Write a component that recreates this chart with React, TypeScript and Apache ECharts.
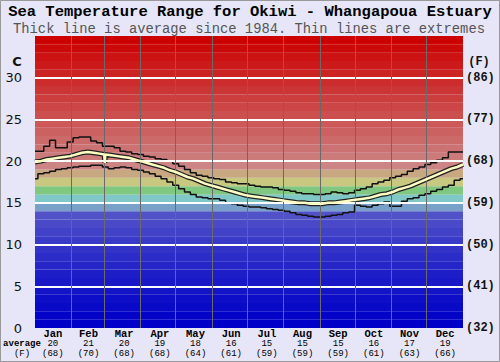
import React, { useEffect, useRef } from 'react';
import * as echarts from 'echarts';

const MONTHS = ['Jan', 'Feb', 'Mar', 'Apr', 'May', 'Jun', 'Jul', 'Aug', 'Sep', 'Oct', 'Nov', 'Dec'];
const MONTH_START_DAYS = [0, 31, 59, 90, 120, 151, 181, 212, 243, 273, 304, 334, 365];
const AVG_C = [20, 21, 20, 19, 18, 16, 15, 15, 15, 16, 17, 19];
const AVG_F = [68, 70, 68, 68, 64, 61, 59, 59, 59, 61, 63, 66];
const Y_TICKS_C = [0, 5, 10, 15, 20, 25, 30];

// sample days (every 5 days of the year)
const DAYS = Array.from({ length: 74 }, (_, i) => i * 5);

const MAX_T = [
  21.2, 21.2, 21.8, 22.5, 21.6, 21.6, 22.3, 22.8, 22.9, 22.9,
  22.4, 22.2, 21.8, 21.8, 21.6, 21.2, 21.1, 20.9, 20.8, 20.6,
  20.5, 20.3, 20.2, 20.0, 19.7, 19.4, 19.0, 18.6, 18.3, 18.2,
  18.0, 17.9, 17.8, 17.5, 17.4, 17.3, 17.3, 17.1, 17.0, 16.9,
  16.9, 16.8, 16.6, 16.5, 16.4, 16.2, 16.1, 16.1, 16.0, 16.0,
  16.1, 16.3, 16.2, 16.1, 16.2, 16.5, 16.7, 16.9, 17.3, 17.5,
  17.7, 18.0, 18.2, 18.4, 18.8, 19.1, 19.3, 19.6, 19.8, 20.1,
  20.4, 21.1, 21.1, 21.1,
];

const MIN_T = [
  17.9, 18.5, 18.6, 18.8, 19.0, 19.1, 19.2, 19.3, 19.4, 19.4,
  19.5, 19.5, 19.3, 19.1, 19.2, 19.3, 19.2, 19.0, 18.9, 18.7,
  18.5, 18.2, 17.9, 17.5, 17.1, 16.7, 16.3, 16.0, 15.7, 15.6,
  15.5, 15.5, 15.3, 15.0, 14.9, 14.7, 14.6, 14.5, 14.5, 14.4,
  14.3, 14.2, 14.1, 14.0, 13.8, 13.6, 13.5, 13.4, 13.3, 13.3,
  13.4, 13.5, 13.6, 13.8, 13.9, 14.7, 14.6, 14.5, 14.7, 14.9,
  15.1, 14.6, 14.6, 15.2, 15.5, 15.6, 15.9, 16.1, 16.4, 16.6,
  16.9, 17.1, 17.7, 17.9,
];

const AVG_T = [
  19.9, 20.0, 20.2, 20.3, 20.4, 20.5, 20.6, 20.8, 21.0, 21.1,
  21.0, 20.9, 20.8, 20.7, 20.6, 20.5, 20.4, 20.2, 20.0, 19.8,
  19.6, 19.4, 19.2, 18.9, 18.7, 18.4, 18.1, 17.9, 17.6, 17.3,
  17.1, 16.9, 16.7, 16.5, 16.3, 16.1, 15.9, 15.8, 15.7, 15.6,
  15.5, 15.4, 15.3, 15.2, 15.1, 15.0, 15.0, 14.9, 14.9, 14.9,
  15.0, 15.0, 15.1, 15.2, 15.3, 15.4, 15.5, 15.6, 15.8, 16.0,
  16.1, 16.3, 16.6, 16.8, 17.0, 17.3, 17.6, 17.9, 18.2, 18.5,
  18.8, 19.1, 19.3, 19.6,
];

// short dip in the average around 1 March
const AVG_DIP_DAYS = [59, 59.5];
const AVG_DIP_T = [20.8, 19.8];

function bandColor(t: number): string {
  if (t <= 13) {
    const rg = Math.round(t * 4 + t * t * 0.18);
    return `rgb(${rg},${rg},200)`;
  }
  if (t === 14) return 'rgb(120,160,200)';
  if (t === 15) return 'rgb(128,200,200)';
  if (t === 16) return 'rgb(128,200,128)';
  if (t === 17) return 'rgb(200,200,128)';
  if (t === 18) return 'rgb(200,168,128)';
  const gb = Math.max(0, Math.round(132 - (t - 19) * 8.8));
  return `rgb(204,${gb},${gb})`;
}

const MONO = '"Liberation Mono", "DejaVu Sans Mono", monospace';
const SANS = '"DejaVu Sans", sans-serif';

export default function App() {
  const ref = useRef<HTMLDivElement>(null);

  useEffect(() => {
    document.body.style.margin = '0';
    const chart = echarts.init(ref.current!, null, { renderer: 'svg' });

    const pair = (vals: number[]) => DAYS.map((d, i) => [d, vals[i]]);
    const avgData = pair(AVG_T)
      .concat(AVG_DIP_DAYS.map((d, i) => [d, AVG_DIP_T[i]]))
      .sort((a, b) => a[0] - b[0]);

    const bands = [];
    for (let t = 0; t < 35; t++) {
      bands.push([{ yAxis: t, itemStyle: { color: bandColor(t) } }, { yAxis: t + 1 }]);
    }

    chart.setOption({
      animation: false,
      backgroundColor: '#e6e6f8',
      grid: { left: 35, right: 37, top: 36, bottom: 34 },
      xAxis: [
        { type: 'value', min: 0, max: 365, show: false },
        {
          type: 'category',
          data: MONTHS,
          position: 'bottom',
          boundaryGap: true,
          axisLine: { show: false },
          axisTick: { show: false },
          splitLine: { show: false },
          axisLabel: {
            margin: 1,
            interval: 0,
            formatter: (v: string, i: number) => `{m|${v}}\n{c|${AVG_C[i]}}\n{f|(${AVG_F[i]})}`,
            rich: {
              m: { fontFamily: MONO, fontWeight: 'bold', fontSize: 10.5, lineHeight: 10.5, color: '#000' },
              c: { fontFamily: MONO, fontSize: 9, lineHeight: 9.5, color: '#000' },
              f: { fontFamily: MONO, fontSize: 9, lineHeight: 9.5, color: '#000' },
            },
          },
        },
      ],
      yAxis: [
        {
          type: 'value',
          min: 0,
          max: 35,
          interval: 5,
          axisLine: { show: false },
          axisTick: { show: false },
          splitLine: { show: false },
          axisLabel: {
            margin: 13,
            fontFamily: SANS,
            fontSize: 13,
            color: '#111',
            formatter: (v: number) => (Y_TICKS_C.includes(v) ? String(v) : ''),
          },
        },
        {
          type: 'value',
          min: 0,
          max: 35,
          interval: 5,
          position: 'right',
          axisLine: { show: false },
          axisTick: { show: false },
          splitLine: { show: false },
          axisLabel: {
            margin: 3,
            fontFamily: MONO,
            fontWeight: 'bold',
            fontSize: 12,
            color: '#111',
            formatter: (v: number) => (Y_TICKS_C.includes(v) ? `(${Math.round((v * 9) / 5 + 32)})` : ''),
          },
        },
      ],
      graphic: [
        { type: 'rect', shape: { x: 0.5, y: 0.5, width: 499, height: 361 }, style: { fill: 'none', stroke: '#999', lineWidth: 1 }, z: 100 },
        {
          type: 'text',
          x: 250,
          y: 12,
          style: { text: 'Sea Temperature Range for Okiwi - Whangapoua Estuary', font: `bold 15.5px ${MONO}`, fill: '#000', align: 'center', verticalAlign: 'middle' },
        },
        {
          type: 'text',
          x: 249,
          y: 29,
          style: { text: 'Thick line is average since 1984. Thin lines are extremes', font: `13.8px ${MONO}`, fill: '#555', align: 'center', verticalAlign: 'middle' },
        },
        { type: 'text', x: 17, y: 61, style: { text: 'C', font: `bold 13px ${SANS}`, fill: '#111', align: 'center', verticalAlign: 'middle' } },
        { type: 'text', x: 479, y: 62, style: { text: '(F)', font: `bold 12px ${MONO}`, fill: '#111', align: 'center', verticalAlign: 'middle' } },
        { type: 'text', x: 22, y: 343.5, style: { text: 'average', font: `bold 9px ${MONO}`, fill: '#000', align: 'center', verticalAlign: 'middle' } },
        { type: 'text', x: 22, y: 353.5, style: { text: '(F)', font: `9px ${MONO}`, fill: '#000', align: 'center', verticalAlign: 'middle' } },
      ],
      series: [
        {
          type: 'line',
          xAxisIndex: 0,
          yAxisIndex: 0,
          data: [[0, 0]],
          symbol: 'none',
          lineStyle: { opacity: 0 },
          silent: true,
          z: 1,
          markArea: { silent: true, data: bands },
        },
        {
          type: 'line',
          xAxisIndex: 0,
          yAxisIndex: 0,
          data: [[0, 0]],
          symbol: 'none',
          lineStyle: { opacity: 0 },
          silent: true,
          z: 2,
          markLine: {
            silent: true,
            symbol: 'none',
            label: { show: false },
            data: [
              ...Y_TICKS_C.filter((v) => v > 0).map((v) => ({ yAxis: v, lineStyle: { color: '#ffffff', width: 2, type: 'solid' } })),
              ...MONTH_START_DAYS.slice(1, 12).map((d) => ({ xAxis: d, lineStyle: { color: '#6a6a6a', width: 1, type: 'solid' } })),
            ],
          },
        },
        {
          type: 'line',
          xAxisIndex: 0,
          yAxisIndex: 0,
          data: pair(MAX_T),
          step: 'middle',
          symbol: 'none',
          lineStyle: { color: '#111', width: 1.5 },
          z: 3,
        },
        {
          type: 'line',
          xAxisIndex: 0,
          yAxisIndex: 0,
          data: pair(MIN_T),
          step: 'middle',
          symbol: 'none',
          lineStyle: { color: '#111', width: 1.5 },
          z: 3,
        },
        {
          type: 'line',
          xAxisIndex: 0,
          yAxisIndex: 0,
          data: avgData,
          symbol: 'none',
          lineStyle: { color: '#222', width: 5 },
          z: 4,
        },
        {
          type: 'line',
          xAxisIndex: 0,
          yAxisIndex: 0,
          data: avgData,
          symbol: 'none',
          lineStyle: { color: '#ffffc4', width: 2.5 },
          z: 5,
        },
      ],
    });

    return () => chart.dispose();
  }, []);

  return <div ref={ref} style={{ width: 500, height: 362 }} />;
}
